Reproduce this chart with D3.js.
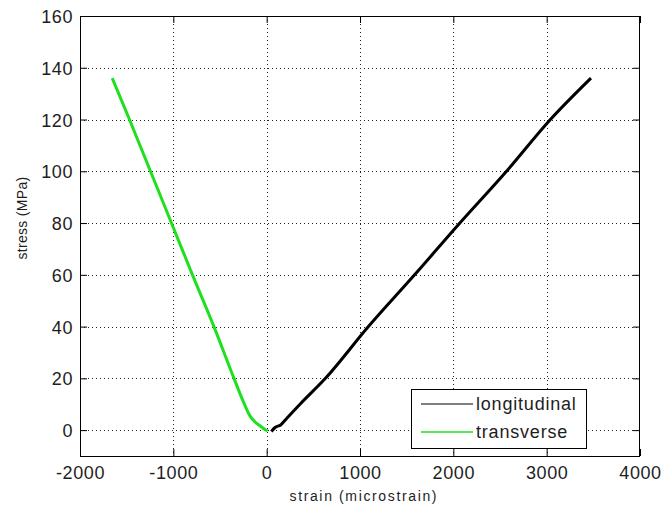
<!DOCTYPE html>
<html>
<head>
<meta charset="utf-8">
<script src="https://cdn.jsdelivr.net/npm/d3@7"></script>
<style>
  html, body { margin: 0; padding: 0; background: #fff; }
  svg { display: block; }
  text { font-family: "Liberation Sans", Arial, sans-serif; fill: #1e1e1e; }
</style>
</head>
<body>
<svg id="chart" width="665" height="512"></svg>
<script>
// ---- data (strain in microstrain, stress in MPa) ----
const longStrain = [50, 90, 150, 214, 357, 630, 1090, 1585, 2070, 2570, 3040, 3475];
const longStress = [-0.5, 1, 2, 4.5, 10, 20, 40, 60, 80, 100, 120, 136];
const transStrain = [10, -30, -72, -120, -179, -250, -350, -565, -795, -1020, -1245, -1470, -1655];
const transStress = [-0.3, 0.5, 1.7, 3, 5.5, 11, 20, 40, 60, 80, 100, 120, 136];
const xTicks = [-2000, -1000, 0, 1000, 2000, 3000, 4000];
const yTicks = [0, 20, 40, 60, 80, 100, 120, 140, 160];
const seriesNames = ["longitudinal", "transverse"];
const seriesColors = ["#000000", "#1ee01e"];

const svg = d3.select("#chart");
const L = 80, R = 640, T = 16, B = 456;
const x = d3.scaleLinear().domain([-2000, 4000]).range([L, R]);
const y = d3.scaleLinear().domain([-10, 160]).range([B, T]);
const fmt = d => String(d); // plain hyphen minus as in the original

// background
svg.append("rect").attr("width", 665).attr("height", 512).attr("fill", "#fff");

// grid
const grid = svg.append("g").attr("stroke", "#222").attr("stroke-width", 1).attr("stroke-dasharray", "1,3");
grid.selectAll(".gx").data(xTicks.slice(1, -1)).join("line")
  .attr("x1", d => Math.round(x(d)) + 0.5).attr("x2", d => Math.round(x(d)) + 0.5)
  .attr("y1", T).attr("y2", B);
grid.selectAll(".gy").data(yTicks.filter(d => d < 160)).join("line")
  .attr("y1", d => Math.round(y(d)) + 0.5).attr("y2", d => Math.round(y(d)) + 0.5)
  .attr("x1", L).attr("x2", R);

// axes with inward ticks on all sides
const tickLen = 7;
const axB = d3.axisBottom(x).tickValues(xTicks).tickSizeInner(-tickLen).tickSizeOuter(0).tickFormat(fmt);
const axT = d3.axisTop(x).tickValues(xTicks).tickSizeInner(-tickLen).tickSizeOuter(0).tickFormat("");
const axL = d3.axisLeft(y).tickValues(yTicks).tickSizeInner(-tickLen).tickSizeOuter(0).tickFormat(fmt);
const axR = d3.axisRight(y).tickValues(yTicks).tickSizeInner(-tickLen).tickSizeOuter(0).tickFormat("");

function styleAxis(g) {
  g.select(".domain").remove();
  g.selectAll("line").attr("stroke", "#000");
  g.selectAll("text").attr("font-size", 18).style("letter-spacing", "0.6px").attr("fill", "#1e1e1e");
}
svg.append("g").attr("transform", `translate(0,${B})`).call(axB).call(styleAxis)
  .selectAll("text").attr("dy", null).attr("y", 23);
svg.append("g").attr("transform", `translate(0,${T})`).call(axT).call(styleAxis);
svg.append("g").attr("transform", `translate(${L},0)`).call(axL).call(styleAxis)
  .selectAll("text").attr("x", -7).attr("dy", "0.36em");
svg.append("g").attr("transform", `translate(${R},0)`).call(axR).call(styleAxis);

// box
svg.append("rect").attr("x", L + 0.5).attr("y", T + 0.5).attr("width", R - L - 1).attr("height", B - T)
  .attr("fill", "none").attr("stroke", "#000").attr("stroke-width", 1);

// lines
const line = d3.line().x(d => x(d[0])).y(d => y(d[1])).curve(d3.curveMonotoneX);
const longData = longStrain.map((v, i) => [v, longStress[i]]).sort((a, b) => a[0] - b[0]);
const transData = transStrain.map((v, i) => [v, transStress[i]]).sort((a, b) => a[0] - b[0]);
svg.append("path").datum(transData).attr("d", line).attr("fill", "none")
  .attr("stroke", seriesColors[1]).attr("stroke-width", 3).attr("stroke-linejoin", "round");
svg.append("path").datum(longData).attr("d", line).attr("fill", "none")
  .attr("stroke", seriesColors[0]).attr("stroke-width", 3).attr("stroke-linejoin", "round");

// axis labels
svg.append("text").attr("x", (L + R) / 2 + 3).attr("y", 501).attr("text-anchor", "middle")
  .attr("font-size", 14).attr("textLength", 147).attr("lengthAdjust", "spacing")
  .text("strain (microstrain)");
svg.append("text").attr("transform", "translate(27,218) rotate(-90)").attr("text-anchor", "middle")
  .attr("font-size", 14).style("letter-spacing", "0.3px").text("stress (MPa)");

// legend
const lg = svg.append("g");
lg.append("rect").attr("x", 411.5).attr("y", 389.5).attr("width", 175).attr("height", 59)
  .attr("fill", "#fff").attr("stroke", "#000").attr("stroke-width", 1);
seriesNames.forEach((n, i) => {
  const yy = 404 + i * 28;
  lg.append("line").attr("x1", 421).attr("x2", 473).attr("y1", yy).attr("y2", yy)
    .attr("stroke", seriesColors[i]).attr("stroke-width", i === 0 ? 1 : 1.5);
  lg.append("text").attr("x", 476).attr("y", yy).attr("dy", "0.36em")
    .attr("font-size", 18).style("letter-spacing", "0.8px").text(n);
});
</script>
</body>
</html>
